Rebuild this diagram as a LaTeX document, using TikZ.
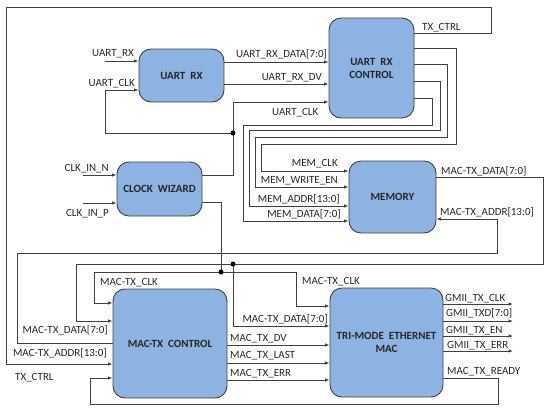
\documentclass[tikz,border=0pt]{standalone}
\usepackage{fontspec}
\setmainfont{Carlito}
\usetikzlibrary{arrows.meta}
\definecolor{boxblue}{HTML}{8DB3E2}
\definecolor{wirecol}{HTML}{404040}
\definecolor{txtcol}{HTML}{262626}

\begin{document}
\begin{tikzpicture}[x=1pt,y=-1pt,
  block/.style={draw=wirecol, fill=boxblue, rounded corners=12pt, line width=0.9pt,
    inner sep=0pt, align=center, text=txtcol, font=\fontsize{11}{13}\selectfont\bfseries},
  wire/.style={draw=wirecol, line width=0.9pt},
  sig/.style={wire, -{Latex[length=4.5pt,width=3.5pt]}},
  lbl/.style={inner sep=0pt, text=txtcol, font=\fontsize{11}{12}\selectfont},
  jdot/.style={circle, fill=black, inner sep=0pt, minimum size=5pt}]
  \useasboundingbox (0,0) rectangle (550,410);
  % Blocks
  \node[block, minimum width=85pt, minimum height=53pt] (urx) at (181.5,75.5) {UART~ RX};
  \node[block, minimum width=85pt, minimum height=100pt] (urxc) at (371.5,68) {UART~ RX\\CONTROL};
  \node[block, minimum width=85pt, minimum height=54pt] (clkw) at (159.5,189) {CLOCK~ WIZARD};
  \node[block, minimum width=87pt, minimum height=72pt] (mem) at (392.5,197) {MEMORY};
  \node[block, minimum width=114pt, minimum height=109pt] (mtx) at (170,343.5) {MAC-TX~ CONTROL};
  \node[block, minimum width=113pt, minimum height=109pt] (temac) at (386.5,342.5) {TRI-MODE~ ETHERNET\\MAC};
  % Free ends and junctions
  \coordinate (rxin) at (105,61);
  \coordinate (nin) at (83,175);
  \coordinate (pin) at (83,203);
  \coordinate (j1) at (233,133);
  \coordinate (j2) at (221,272);
  \coordinate (j3) at (233,264);
  % Inputs
  \draw[sig] (rxin) -- (urx.west |- rxin);
  \draw[sig] (nin) -- (clkw.west |- nin);
  \draw[sig] (pin) -- (clkw.west |- pin);
  % UART clock
  \draw[sig] (clkw.east |- 0,175) -- (233,175) -- (233,102) -- (urxc.west |- 0,102);
  \draw[sig] (j1) -- (105,133) -- (105,90) -- (urx.west |- 0,90);
  \node[jdot] (d1) at (j1) {};
  % UART RX to control
  \draw[sig] (urx.east |- 0,62) -- (urxc.west |- 0,62);
  \draw[sig] (urx.east |- 0,84) -- (urxc.west |- 0,84);
  % TX_CTRL round the top
  \draw[sig] (urxc.east |- 0,33) -- (491,33) -- (491,7) -- (6,7) -- (6,364) -- (mtx.west |- 0,364);
  % Memory buses
  \foreach \yo/\xr/\yb/\xl/\yi in {48/456/144/261/171, 64/447/137/255/187,
                                   81/440/130/249/206, 98/432/125/243/221}
    \draw[sig] (urxc.east |- 0,\yo) -- (\xr,\yo) -- (\xr,\yb) -- (\xl,\yb) -- (\xl,\yi) -- (mem.west |- 0,\yi);
  % Memory data and address
  \draw[sig] (mem.east |- 0,177) -- (543,177) -- (543,264) -- (76,264) -- (76,321) -- (mtx.west |- 0,321);
  \draw[sig] (j3) -- (233,326) -- (temac.west |- 0,326);
  \node[jdot] (d3) at (j3) {};
  \draw[sig] (mtx.west |- 0,343) -- (17,343) -- (17,253) -- (497,253) -- (497,219) -- (mem.east |- 0,219);
  % MAC clock
  \draw[wire] (clkw.east |- 0,202) -- (221,202) -- (j2);
  \draw[sig] (j2) -- (94,272) -- (94,303) -- (mtx.west |- 0,303);
  \draw[sig] (j2) -- (296,272) -- (296,306) -- (temac.west |- 0,306);
  \node[jdot] (d2) at (j2) {};
  % Control to MAC
  \foreach \yy in {345,363,380}
    \draw[sig] (mtx.east |- 0,\yy) -- (temac.west |- 0,\yy);
  % GMII outputs
  \foreach \yy in {304,321,336,351} {
    \coordinate (g\yy) at (513,\yy);
    \draw[sig] (temac.east |- g\yy) -- (g\yy);
  }
  % Ready loop
  \draw[sig] (temac.east |- 0,378) -- (498,378) -- (498,404) -- (90,404) -- (90,378) -- (mtx.west |- 0,378);
  % Labels
  \node[lbl, anchor=base east] (l1) at (134,56) {UART\_RX};
  \node[lbl, anchor=base east] (l2) at (135,86) {UART\_CLK};
  \node[lbl, anchor=base west] (l3) at (236,57) {UART\_RX\_DATA[7:0]};
  \node[lbl, anchor=base east] (l4) at (322,80) {UART\_RX\_DV};
  \node[lbl, anchor=base west] (l5) at (272,115) {UART\_CLK};
  \node[lbl, anchor=base west] (l6) at (422,30) {TX\_CTRL};
  \node[lbl, anchor=base east] (l7) at (109,171) {CLK\_IN\_N};
  \node[lbl, anchor=base east] (l8) at (109,216) {CLK\_IN\_P};
  \node[lbl, anchor=base east] (l9) at (338,166) {MEM\_CLK};
  \node[lbl, anchor=base east] (l10) at (338,183) {MEM\_WRITE\_EN};
  \node[lbl, anchor=base east] (l11) at (340,202) {MEM\_ADDR[13:0]};
  \node[lbl, anchor=base east] (l12) at (341,217) {MEM\_DATA[7:0]};
  \node[lbl, anchor=base west] (l13) at (441,174) {MAC-TX\_DATA[7:0]};
  \node[lbl, anchor=base west] (l14) at (440,215) {MAC-TX\_ADDR[13:0]};
  \node[lbl, anchor=base west] (l15) at (100,285) {MAC-TX\_CLK};
  \node[lbl, anchor=base east] (l16) at (108,333) {MAC-TX\_DATA[7:0]};
  \node[lbl, anchor=base east] (l17) at (107,356) {MAC-TX\_ADDR[13:0]};
  \node[lbl, anchor=base west] (l18) at (15,380) {TX\_CTRL};
  \node[lbl, anchor=base west] (l19) at (302,284) {MAC-TX\_CLK};
  \node[lbl, anchor=base east] (l20) at (328,322) {MAC-TX\_DATA[7:0]};
  \node[lbl, anchor=base west] (l21) at (230,341) {MAC\_TX\_DV};
  \node[lbl, anchor=base west] (l22) at (230,358) {MAC\_TX\_LAST};
  \node[lbl, anchor=base west] (l23) at (230,376) {MAC\_TX\_ERR};
  \node[lbl, anchor=base west] (l24) at (445,301) {GMII\_TX\_CLK};
  \node[lbl, anchor=base west] (l25) at (446,316) {GMII\_TXD[7:0]};
  \node[lbl, anchor=base west] (l26) at (446,333) {GMII\_TX\_EN};
  \node[lbl, anchor=base west] (l27) at (447,348) {GMII\_TX\_ERR};
  \node[lbl, anchor=base west] (l28) at (447,374) {MAC\_TX\_READY};
\end{tikzpicture}
\end{document}
